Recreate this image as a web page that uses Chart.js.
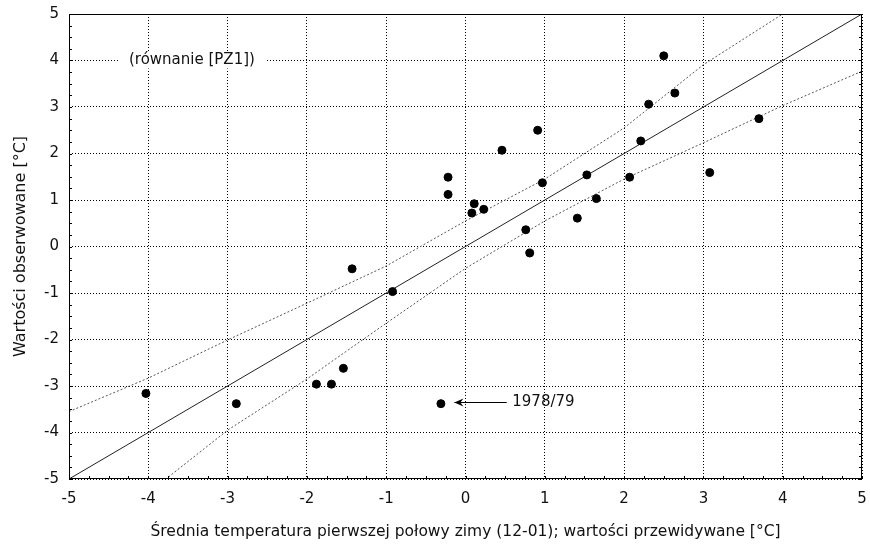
<!DOCTYPE html>
<html>
<head>
<meta charset="utf-8">
<script src="https://cdn.jsdelivr.net/npm/chart.js@4.4.1/dist/chart.umd.min.js"></script>
<style>
  html, body { margin: 0; padding: 0; background: #fff; }
  #wrap { width: 870px; height: 547px; }
</style>
</head>
<body>
<div id="wrap"><canvas id="scatterChart" width="870" height="547"></canvas></div>
<script>
// observed vs predicted winter temperature
const predX = [-4.03, -2.89, -1.88, -1.69, -1.54, -1.43, -0.92, -0.31, -0.22, -0.22, 0.08, 0.11, 0.23, 0.46,
  0.76, 0.81, 0.91, 0.97, 1.41, 1.53, 1.65, 2.07, 2.21, 2.31, 2.50, 2.64, 3.08, 3.70];
const obsY = [-3.16, -3.38, -2.96, -2.96, -2.62, -0.48, -0.97, -3.38, 1.49, 1.12, 0.72, 0.92, 0.80, 2.07,
  0.36, -0.14, 2.50, 1.37, 0.61, 1.54, 1.03, 1.49, 2.27, 3.06, 4.10, 3.30, 1.59, 2.75];

// fitted line and confidence band
const fitX = [-5, 5];
const fitY = [-5, 5];
const bandX = [-5, -4, -3, -2, -1, 0, 1, 2, 3, 4, 5];
const upperY = [-3.55, -2.83, -2.01, -1.22, -0.42, 0.55, 1.45, 2.55, 3.91, 5.0, 6.1];
const lowerY = [-6.4, -5.3, -3.95, -2.85, -1.65, -0.47, 0.55, 1.45, 2.23, 3.03, 3.77];

const axisTicks = [-5, -4, -3, -2, -1, 0, 1, 2, 3, 4, 5];

const FONT = "'DejaVu Sans', Arial, sans-serif";

function pts(xs, ys) {
  return xs.map((x, i) => ({ x: x, y: ys[i] }));
}

// frame, minor ticks and the two text notes
const decorPlugin = {
  id: 'decor',
  afterDatasetsDraw(chart) {
    const { ctx, chartArea: a, scales: { x, y } } = chart;
    ctx.save();
    ctx.strokeStyle = '#000';
    ctx.lineWidth = 1;
    ctx.setLineDash([]);
    ctx.strokeRect(Math.round(a.left) + 0.5, Math.round(a.top) + 0.5,
      Math.round(a.right - a.left) - 1, Math.round(a.bottom - a.top) - 1);

    // minor ticks every 0.25 on left, bottom and right
    ctx.beginPath();
    for (let v = -5; v <= 5.001; v += 0.25) {
      const px = Math.round(x.getPixelForValue(v)) + 0.5;
      ctx.moveTo(px, a.bottom);
      ctx.lineTo(px, a.bottom - 3);
      const py = Math.round(y.getPixelForValue(v)) + 0.5;
      ctx.moveTo(a.left, py);
      ctx.lineTo(a.left + 3, py);
      ctx.moveTo(a.right, py);
      ctx.lineTo(a.right - 3, py);
    }
    ctx.stroke();

    // equation note with white box over the grid line
    ctx.font = '15px ' + FONT;
    ctx.textBaseline = 'middle';
    ctx.textAlign = 'center';
    const note = '(równanie [PZ1])';
    const nx = x.getPixelForValue(-3.45);
    const ny = y.getPixelForValue(4);
    const w = ctx.measureText(note).width;
    ctx.fillStyle = '#fff';
    ctx.fillRect(nx - w / 2 - 11, ny - 8, w + 22, 16);
    ctx.fillStyle = '#111';
    ctx.fillText(note, nx, ny);

    // arrow to 1978/79
    const ay = Math.round(y.getPixelForValue(-3.35)) + 0.5;
    const ax1 = x.getPixelForValue(-0.14);
    const ax2 = x.getPixelForValue(0.52);
    ctx.strokeStyle = '#000';
    ctx.beginPath();
    ctx.moveTo(ax2, ay);
    ctx.lineTo(ax1, ay);
    ctx.stroke();
    ctx.beginPath();
    ctx.moveTo(ax1, ay);
    ctx.lineTo(ax1 + 9, ay - 4);
    ctx.lineTo(ax1 + 6, ay);
    ctx.lineTo(ax1 + 9, ay + 4);
    ctx.closePath();
    ctx.fillStyle = '#000';
    ctx.fill();
    ctx.fillStyle = '#111';
    ctx.textAlign = 'left';
    ctx.fillText('1978/79', x.getPixelForValue(0.59), ay);
    ctx.restore();
  }
};

document.addEventListener('DOMContentLoaded', function () {
  const ctx = document.getElementById('scatterChart').getContext('2d');

  const scatterChart = new Chart(ctx, {
    type: 'scatter',
    data: {
      datasets: [
        {
          data: pts(bandX, upperY),
          showLine: true,
          borderColor: '#555',
          borderWidth: 1,
          borderDash: [2, 2],
          pointRadius: 0,
          clip: 0,
          order: 3
        },
        {
          data: pts(bandX, lowerY),
          showLine: true,
          borderColor: '#555',
          borderWidth: 1,
          borderDash: [2, 2],
          pointRadius: 0,
          clip: 0,
          order: 3
        },
        {
          data: pts(fitX, fitY),
          showLine: true,
          borderColor: '#222',
          borderWidth: 1,
          pointRadius: 0,
          clip: 0,
          order: 2
        },
        {
          data: pts(predX, obsY),
          backgroundColor: '#000',
          borderColor: '#000',
          pointRadius: 4,
          pointHoverRadius: 4,
          order: 1
        }
      ]
    },
    options: {
      responsive: false,
      animation: false,
      devicePixelRatio: 1,
      layout: { padding: { left: 0, right: 8, top: 14, bottom: 0 } },
      plugins: { legend: { display: false }, tooltip: { enabled: false } },
      scales: {
        x: {
          type: 'linear',
          min: -5,
          max: 5,
          afterBuildTicks: (s) => { s.ticks = axisTicks.map(v => ({ value: v })); },
          afterFit: (s) => { s.height = 68; s.paddingLeft = 0; s.paddingRight = 0; },
          ticks: { font: { family: FONT, size: 15 }, color: '#111', padding: 11 },
          grid: { color: '#000', lineWidth: 1, drawTicks: false },
          border: { display: false, dash: [1, 2] },
          title: {
            display: true,
            text: 'Średnia temperatura pierwszej połowy zimy (12-01); wartości przewidywane [°C]',
            font: { family: FONT, size: 15.5 },
            color: '#111',
            padding: { top: 0, bottom: 6 }
          }
        },
        y: {
          type: 'linear',
          min: -5,
          max: 5,
          afterBuildTicks: (s) => { s.ticks = axisTicks.map(v => ({ value: v })); },
          afterFit: (s) => { s.width = 69; s.paddingTop = 0; s.paddingBottom = 0; },
          ticks: { font: { family: FONT, size: 15 }, color: '#111', padding: 10 },
          grid: { color: '#000', lineWidth: 1, drawTicks: false },
          border: { display: false, dash: [1, 2] },
          title: {
            display: true,
            text: 'Wartości obserwowane [°C]',
            font: { family: FONT, size: 16 },
            color: '#111',
            padding: { top: 11, bottom: 0 }
          }
        }
      }
    },
    plugins: [decorPlugin]
  });
});
</script>
</body>
</html>
